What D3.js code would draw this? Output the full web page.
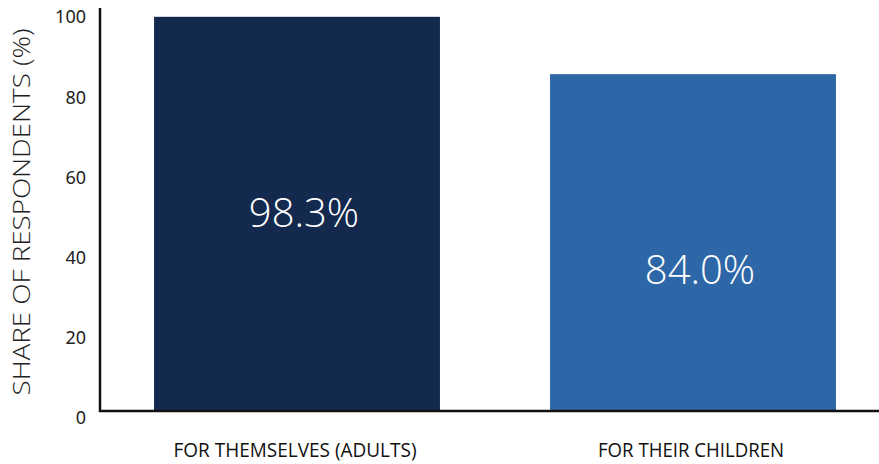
<!DOCTYPE html>
<meta charset="utf-8">
<head>
    <title>Share of respondents</title>
    <script src="https://cdn.jsdelivr.net/npm/d3@7"></script>
    <style>
        body { margin: 0; background: #fff; }
        svg { display: block; }
        .tick-label { font-family: "Noto Sans", sans-serif; font-size: 18px; fill: #222; }
        .cat-label { font-family: "Open Sans", sans-serif; font-size: 20px; fill: #111; }
        .val-label { font-family: "Open Sans", sans-serif; font-weight: 300; font-size: 40px; fill: #fff; }
        .axis-title { font-family: "Open Sans", sans-serif; font-weight: 300; font-size: 23px; fill: #222; }
    </style>
</head>
<body>
<div id="chart"></div>
<script>
    // data
    var categories = ["FOR THEMSELVES (ADULTS)", "FOR THEIR CHILDREN"];
    var values = [98.3, 84.0];
    var barColors = ["#13294d", "#2e67a8"];
    var yTicks = [0, 20, 40, 60, 80, 100];

    var w = 879, h = 464;
    var svg = d3.select("#chart").append("svg")
        .attr("width", w).attr("height", h);

    var x = d3.scaleBand()
        .domain(categories)
        .range([99, 891])
        .paddingInner(0.278)
        .paddingOuter(0.139);

    var y = d3.scaleLinear()
        .domain([0, 100])
        .range([411, 10]);

    var data = categories.map(function (c, i) {
        return { cat: c, value: values[i], color: barColors[i] };
    });

    // bars
    svg.selectAll("rect.bar")
        .data(data)
        .enter().append("rect")
        .attr("class", "bar")
        .attr("x", function (d) { return x(d.cat); })
        .attr("y", function (d) { return y(d.value); })
        .attr("width", x.bandwidth())
        .attr("height", function (d) { return y(0) - y(d.value); })
        .attr("fill", function (d) { return d.color; });

    // value labels inside bars
    svg.selectAll("text.val-label")
        .data(data)
        .enter().append("text")
        .attr("class", "val-label")
        .attr("text-anchor", "middle")
        .attr("x", function (d) { return x(d.cat) + x.bandwidth() / 2 + 7; })
        .attr("y", function (d) { return y(d.value) + 196; })
        .attr("dy", "0.35em")
        .text(function (d) { return d.value.toFixed(1) + "%"; });

    // axes lines
    svg.append("line")
        .attr("x1", 100).attr("x2", 100)
        .attr("y1", y(100) - 2).attr("y2", y(0) + 1)
        .attr("stroke", "#111").attr("stroke-width", 2.5);
    svg.append("line")
        .attr("x1", 99).attr("x2", w)
        .attr("y1", y(0)).attr("y2", y(0))
        .attr("stroke", "#111").attr("stroke-width", 2.5);

    // y tick labels
    svg.selectAll("text.tick-label")
        .data(yTicks)
        .enter().append("text")
        .attr("class", "tick-label")
        .attr("text-anchor", "end")
        .attr("x", 86)
        .attr("y", function (d) { return y(d) + 7; })
        .attr("dy", "0.35em")
        .text(function (d) { return d; });

    // category labels (narrow face in the original, squeezed to fit)
    var catWidths = [243, 186];
    svg.selectAll("text.cat-label")
        .data(categories)
        .enter().append("text")
        .attr("class", "cat-label")
        .attr("text-anchor", "middle")
        .attr("x", function (d) { return x(d) + x.bandwidth() / 2 - 2; })
        .attr("y", 457)
        .attr("textLength", function (d, i) { return catWidths[i]; })
        .attr("lengthAdjust", "spacingAndGlyphs")
        .text(function (d) { return d; });

    // y axis title
    svg.append("text")
        .attr("class", "axis-title")
        .attr("text-anchor", "middle")
        .attr("transform", "translate(22,212) rotate(-90)")
        .attr("dy", "0.35em")
        .attr("textLength", 367)
        .attr("lengthAdjust", "spacingAndGlyphs")
        .text("SHARE OF RESPONDENTS (%)");
</script>
</body>
</html>
